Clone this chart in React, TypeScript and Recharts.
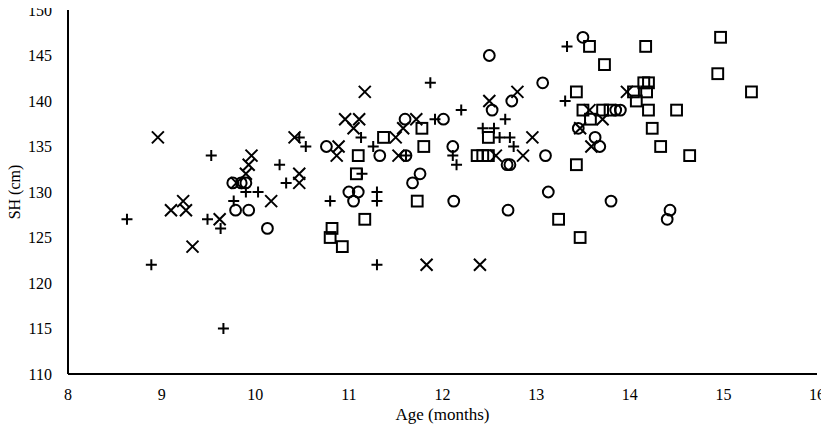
import React from 'react';
import { ScatterChart, Scatter, XAxis, YAxis } from 'recharts';

const xTicks = [8, 9, 10, 11, 12, 13, 14, 15, 16];
const yTicks = [110, 115, 120, 125, 130, 135, 140, 145, 150];

const plusAge = [8.63, 8.89, 9.49, 9.53, 9.63, 9.66, 9.77, 9.9, 10.03, 10.26, 10.33, 10.47, 10.54, 10.8, 11.13, 11.14, 11.26, 11.3, 11.3, 11.3, 11.61, 11.87, 11.92, 12.11, 12.15, 12.2, 12.43, 12.55, 12.61, 12.67, 12.72, 12.76, 13.31, 13.33];
const plusSH = [127, 122, 127, 134, 126, 115, 129, 130, 130, 133, 131, 136, 135, 129, 136, 132, 135, 130, 129, 122, 134, 142, 138, 134, 133, 139, 137, 137, 136, 138, 136, 135, 140, 146];

const crossAge = [8.96, 9.1, 9.23, 9.26, 9.33, 9.62, 9.8, 9.9, 9.93, 9.96, 10.17, 10.42, 10.47, 10.47, 10.87, 10.89, 10.96, 11.05, 11.11, 11.17, 11.5, 11.53, 11.58, 11.72, 11.83, 12.4, 12.5, 12.57, 12.8, 12.86, 12.96, 13.47, 13.57, 13.59, 13.71, 13.97];
const crossSH = [136, 128, 129, 128, 124, 127, 131, 132, 133, 134, 129, 136, 132, 131, 134, 135, 138, 137, 138, 141, 136, 134, 137, 138, 122, 122, 140, 134, 141, 134, 136, 137, 139, 135, 138, 141];

const circleAge = [9.76, 9.85, 9.9, 9.79, 9.93, 10.13, 10.76, 11.0, 11.1, 11.05, 11.33, 11.6, 11.61, 11.68, 11.76, 12.01, 12.11, 12.12, 12.5, 12.53, 12.69, 12.72, 12.7, 12.74, 13.07, 13.1, 13.13, 13.45, 13.5, 13.63, 13.68, 13.8, 13.85, 13.9, 14.4, 14.43];
const circleSH = [131, 131, 131, 128, 128, 126, 135, 130, 130, 129, 134, 138, 134, 131, 132, 138, 135, 129, 145, 139, 133, 133, 128, 140, 142, 134, 130, 137, 147, 136, 135, 129, 139, 139, 127, 128];

const squareAge = [10.8, 10.82, 10.93, 11.08, 11.1, 11.17, 11.37, 11.73, 11.78, 11.8, 12.37, 12.43, 12.49, 12.49, 13.24, 13.43, 13.43, 13.47, 13.5, 13.57, 13.58, 13.71, 13.73, 13.79, 14.04, 14.07, 14.15, 14.2, 14.17, 14.18, 14.2, 14.24, 14.33, 14.5, 14.64, 14.94, 14.97, 15.3];
const squareSH = [125, 126, 124, 132, 134, 127, 136, 129, 137, 135, 134, 134, 134, 136, 127, 133, 141, 125, 139, 146, 138, 139, 144, 139, 141, 140, 142, 142, 146, 141, 139, 137, 135, 139, 134, 143, 147, 141];

const toData = (xs: number[], ys: number[]) => xs.map((x, i) => ({ age: x, sh: ys[i] }));

const plusData = toData(plusAge, plusSH);
const crossData = toData(crossAge, crossSH);
const circleData = toData(circleAge, circleSH);
const squareData = toData(squareAge, squareSH);

const INK = '#000';
const FONT = '"Liberation Serif", "Times New Roman", serif';

const PlusShape = (p: any) => {
  const { cx, cy } = p;
  return <path d={`M${cx - 5.5},${cy}H${cx + 5.5}M${cx},${cy - 5.5}V${cy + 5.5}`} stroke={INK} strokeWidth={2} fill="none" />;
};
const CrossShape = (p: any) => {
  const { cx, cy } = p;
  return <path d={`M${cx - 6},${cy - 6}L${cx + 6},${cy + 6}M${cx + 6},${cy - 6}L${cx - 6},${cy + 6}`} stroke={INK} strokeWidth={2} fill="none" />;
};
const CircleShape = (p: any) => {
  const { cx, cy } = p;
  return <circle cx={cx} cy={cy} r={5.4} stroke={INK} strokeWidth={2} fill="none" />;
};
const SquareShape = (p: any) => {
  const { cx, cy } = p;
  return <rect x={cx - 5.4} y={cy - 5.4} width={10.8} height={10.8} stroke={INK} strokeWidth={2} fill="none" />;
};

export default function App() {
  return (
    <div style={{ width: 813, height: 419, fontFamily: FONT }}>
      <style>{'svg { overflow: visible; } .recharts-wrapper { overflow: visible; }'}</style>
      <ScatterChart width={813} height={419} margin={{ top: 2, right: 4, bottom: 0, left: 0 }} style={{ overflow: 'visible' }}>
        <XAxis
          type="number"
          dataKey="age"
          domain={[8, 16]}
          ticks={xTicks}
          interval={0}
          height={53}
          axisLine={{ stroke: INK, strokeWidth: 2 }}
          tickLine={false}
          tickSize={7}
          tickMargin={8}
          tick={{ fill: INK, fontSize: 16, fontFamily: FONT }}
          label={{ value: 'Age (months)', position: 'insideBottom', offset: 7, fill: INK, fontSize: 17, fontFamily: FONT }}
        />
        <YAxis
          type="number"
          dataKey="sh"
          domain={[110, 150]}
          ticks={yTicks}
          interval={0}
          width={60}
          axisLine={{ stroke: INK, strokeWidth: 2 }}
          tickLine={false}
          tickSize={8}
          tickMargin={8}
          tick={{ fill: INK, fontSize: 16, fontFamily: FONT }}
          label={{ value: 'SH (cm)', angle: -90, position: 'insideLeft', offset: 6, fill: INK, fontSize: 16, fontFamily: FONT, style: { textAnchor: 'middle' } }}
        />
        <Scatter data={plusData} shape={PlusShape} isAnimationActive={false} />
        <Scatter data={crossData} shape={CrossShape} isAnimationActive={false} />
        <Scatter data={circleData} shape={CircleShape} isAnimationActive={false} />
        <Scatter data={squareData} shape={SquareShape} isAnimationActive={false} />
      </ScatterChart>
    </div>
  );
}
